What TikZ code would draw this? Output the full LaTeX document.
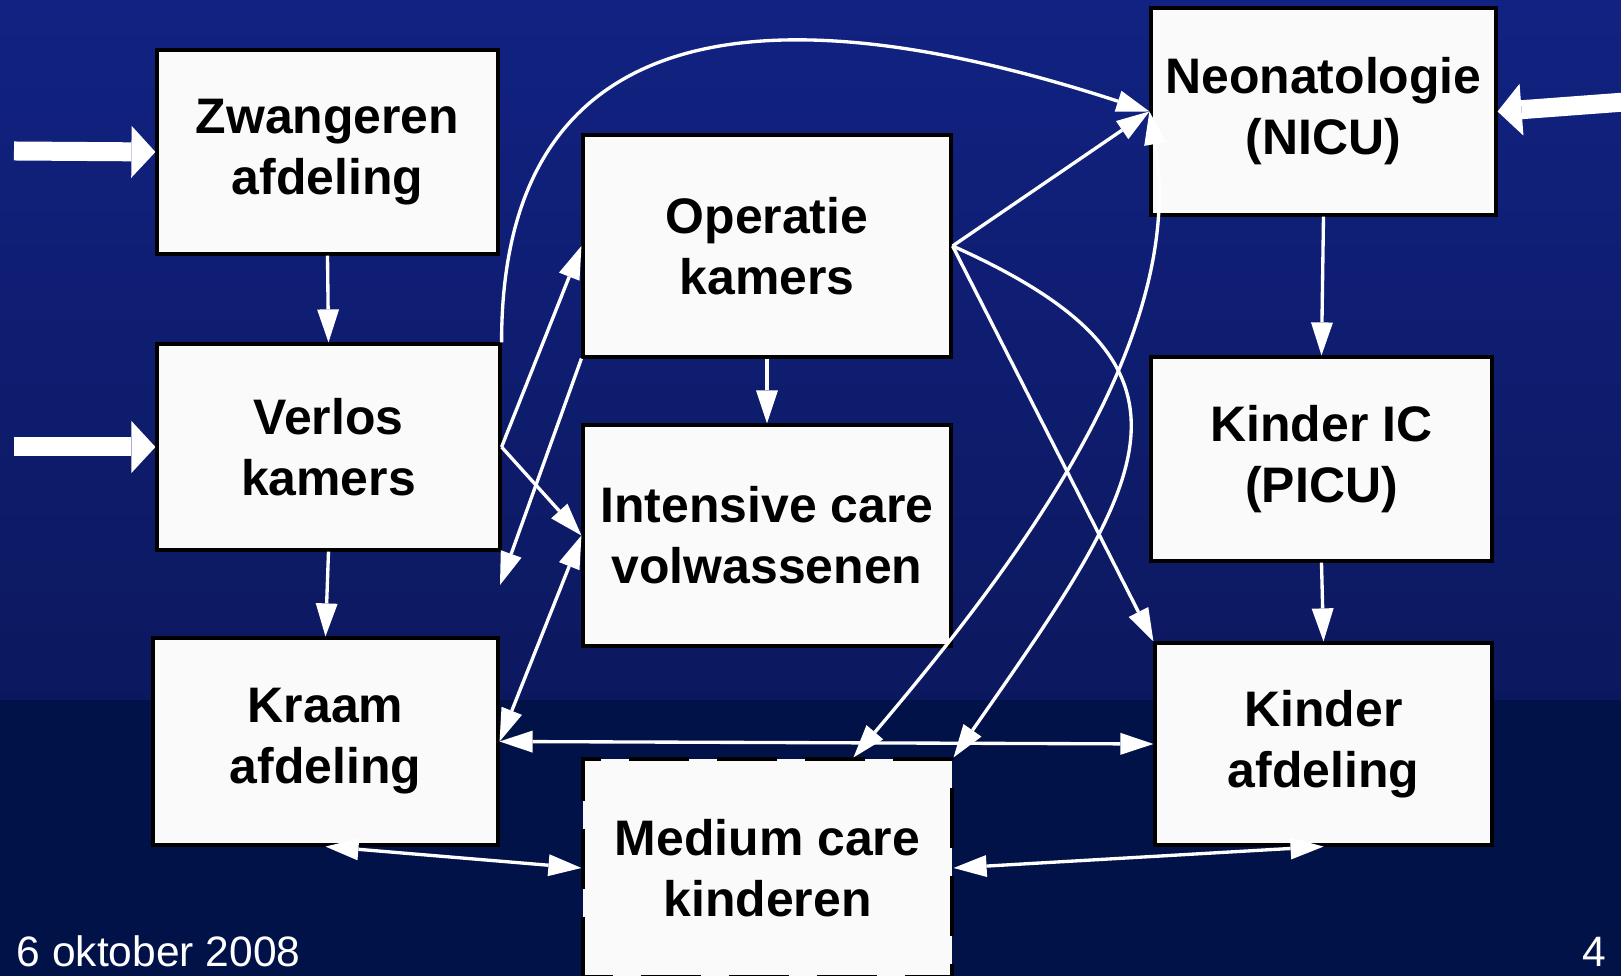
\documentclass[tikz,border=0pt]{standalone}
\usepackage{fontspec}
\setmainfont{Liberation Sans}
\usetikzlibrary{arrows.meta}
\definecolor{bgtop}{RGB}{17,34,130}
\definecolor{bgmid}{RGB}{12,24,94}
\definecolor{bglow}{RGB}{0,18,72}
\definecolor{boxfill}{RGB}{250,250,250}
\tikzset{
  box/.style={draw=black,line width=0.9pt,fill=boxfill,inner sep=0pt,align=center,
    font=\fontsize{14.2}{17.4}\selectfont\bfseries,
    execute at begin node={\rule{0pt}{14.6pt}}},
  dashbox/.style={box,dash pattern=on 0.6cm off 0.28cm,dash phase=0.3cm},
  arr/.style={white,line width=0.95pt,-{Triangle[length=3.3mm,width=2.2mm,line width=0pt]}},
  darr/.style={white,line width=0.95pt,
    {Triangle[length=3.3mm,width=2.2mm,line width=0pt]}-{Triangle[length=3.3mm,width=2.2mm,line width=0pt]}},
  bigarr/.style={white,line width=1.9mm,-{Triangle[length=2.4mm,width=5.2mm,line width=0pt]}}
}
\begin{document}
\begin{tikzpicture}

%背景
\useasboundingbox (0,0) rectangle (16.21,9.76);
\clip (0,0) rectangle (16.21,9.76);
\shade[top color=bgtop,bottom color=bgmid] (0,2.76) rectangle (16.21,9.76);
\fill[bglow] (0,0) rectangle (16.21,2.76);

%画出各个科室
\node[box,minimum width=3.41cm,minimum height=2.04cm] (zw) at (3.275,8.24) {Zwangeren\\afdeling};
\node[box,minimum width=3.43cm,minimum height=2.06cm] (verlos) at (3.285,5.29) {Verlos\\kamers};
\node[box,minimum width=3.45cm,minimum height=2.07cm] (kraam) at (3.255,2.345) {Kraam\\afdeling};
\node[box,minimum width=3.68cm,minimum height=2.22cm] (operatie) at (7.67,7.30) {Operatie\\kamers};
\node[box,minimum width=3.68cm,minimum height=2.21cm] (intensive) at (7.67,4.405) {Intensive care\\volwassenen};
\node[dashbox,minimum width=3.69cm,minimum height=2.18cm] (medium) at (7.675,1.08) {Medium care\\kinderen};
\node[box,minimum width=3.45cm,minimum height=2.07cm] (neo) at (13.235,8.645) {Neonatologie\\(NICU)};
\node[box,minimum width=3.41cm,minimum height=2.04cm] (kic) at (13.215,5.17) {Kinder IC\\(PICU)};
\node[box,minimum width=3.37cm,minimum height=2.02cm] (kafd) at (13.235,2.32) {Kinder\\afdeling};

%instroom van buiten
\coordinate (inzw) at (0.14,8.25);
\coordinate (inverlos) at (0.14,5.29);
\coordinate (inneo) at (16.25,8.74);
\draw[bigarr] (inzw) -- (zw.west);
\draw[bigarr] (inverlos) -- (verlos.west);
\draw[bigarr] (inneo) -- (neo.east);

%左列
\draw[arr] (zw.south) -- (verlos.north);
\draw[arr] (verlos.south) -- (kraam.north);
\draw[arr] (verlos.east) -- (operatie.west);
\draw[arr] (verlos.east) -- (intensive.west);
\coordinate (gap) at (5.00,3.91);
\draw[arr] (operatie.south west) -- (gap);
\draw[arr] (operatie.south) -- (intensive.north);
\draw[darr] (intensive.west) -- (kraam.east);
\draw[darr] (kraam.east) -- (kafd.west);
\draw[darr] (kraam.south) -- (medium.west);
\draw[darr] (medium.east) -- (kafd.south);

%右列
\draw[arr] (operatie.east) -- (neo.west);
\draw[arr] (operatie.east) -- (kafd.north west);
\draw[arr] (neo.south) -- (kic.north);
\draw[arr] (kic.south) -- (kafd.north);

%曲线
\draw[arr] (verlos.north east) .. controls +(0,3.3) and +(-3.8,1.24) .. (neo.west);
\draw[arr] (operatie.east) .. controls +(2.73,-1.22) and +(1.94,2.78) .. (medium.north east);
\draw[darr] (neo.west) .. controls +(0.39,-2.25) and +(1.63,1.92) .. ([xshift=0.86cm]medium.north);

%页脚
\node[white,inner sep=0pt,anchor=base west,font=\fontsize{12.1}{14}\selectfont] (datum) at (0.16,0.09) {6 oktober 2008};
\node[white,inner sep=0pt,anchor=base east,font=\fontsize{12.1}{14}\selectfont] (pagina) at (16.07,0.09) {4};
\end{tikzpicture}
\end{document}
